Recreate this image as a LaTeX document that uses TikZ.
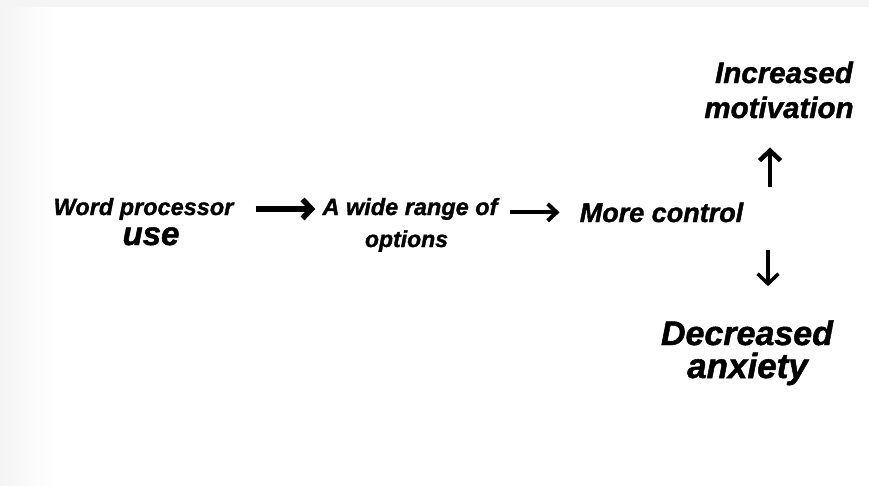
\documentclass[tikz,border=0pt]{standalone}
\usepackage{fontspec}
\setmainfont{Liberation Sans}[BoldItalicFeatures={FakeBold=1.4}]
\usetikzlibrary{arrows.meta}

\newcommand{\sz}[1]{\fontsize{#1}{#1}\selectfont}

\tikzset{
lbl/.style={font=\bfseries\itshape, inner sep=0pt, anchor=base},
bigarrow/.style={-{Straight Barb[length=9pt,width=19pt]}, line width=5.5pt},
midarrow/.style={-{Straight Barb[length=9pt,width=17pt]}, line width=4pt},
vertarrow/.style={-{Straight Barb[length=10pt,width=21pt]}, line width=4.5pt}
}

\begin{document}
\begin{tikzpicture}[x=1pt,y=-1pt]

% Background
\useasboundingbox (0,0) rectangle (869,485);
\fill[gray!8] (0,0) rectangle (869,7);
\shade[left color=gray!9, right color=white] (0,7) rectangle (55,485);

% Word processor use
\node[lbl] (wp) at (143.5,215) {\sz{23.5}Word processor};
\node[lbl] (wpuse) at (151,245) {\sz{33}use};

% A wide range of options
\node[lbl] (range) at (410,215) {\sz{23.5}A wide range of};
\node[lbl] (options) at (406.5,247) {\sz{23}options};

% More control
\node[lbl] (control) at (661.5,222) {\sz{27}More control};

% Increased motivation
\node[lbl] (inc) at (784,83) {\sz{29.5}Increased};
\node[lbl] (mot) at (779,118) {\sz{29.5}motivation};

% Decreased anxiety
\node[lbl] (dec) at (747,345) {\sz{34}Decreased};
\node[lbl] (anx) at (747.5,378) {\sz{35}anxiety};

% Arrows
\coordinate (upfoot) at (770,187);
\coordinate (downtop) at (768,250);

\draw[bigarrow, shorten <=22pt, shorten >=7pt] (wp.east) -- (wp.east -| range.west);
\draw[midarrow, shorten <=12pt, shorten >=20pt] (control.west -| range.east) -- (control.west);
\draw[vertarrow, shorten >=29pt] (upfoot) -- (upfoot |- mot.south);
\draw[vertarrow, line width=3.5pt, shorten >=34pt] (downtop) -- (downtop |- dec.north);

\end{tikzpicture}
\end{document}
